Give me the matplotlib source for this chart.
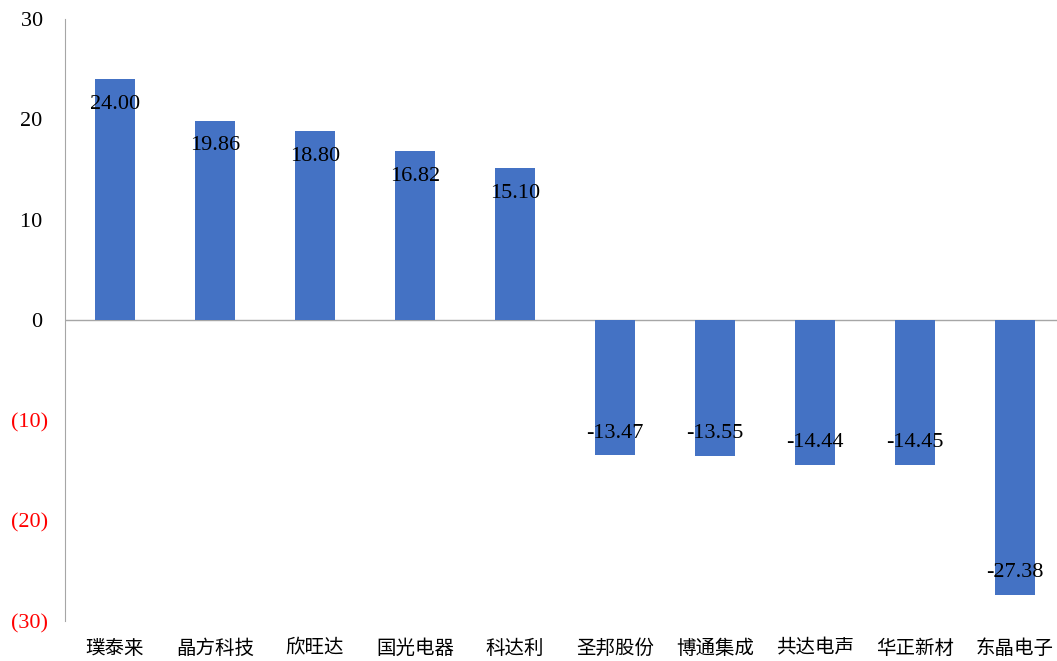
import numpy as np
import matplotlib.pyplot as plt

# 数据
names = ['璞泰来', '晶方科技', '欣旺达', '国光电器', '科达利',
         '圣邦股份', '博通集成', '共达电声', '华正新材', '东晶电子']
values = [24.00, 19.86, 18.80, 16.82, 15.10,
          -13.47, -13.55, -14.44, -14.45, -27.38]
yticks = [30, 20, 10, 0, -10, -20, -30]

fig = plt.figure(figsize=(10.57, 6.61), dpi=100)
ax = fig.add_axes([65 / 1057, 40 / 661, 992 / 1057, 602 / 661])

x = np.arange(len(names))
ax.bar(x, values, width=0.4, color='#4472C4', zorder=2)

for xi, v in zip(x, values):
    off = -2.5 if v > 0 else 2.2
    ax.text(xi, v + off, f'{v:.2f}', ha='center', va='center',
            fontsize=16, family='Liberation Serif', color='black', zorder=3)

ax.axhline(0, color='#A6A6A6', lw=1, zorder=1)
ax.set_xlim(-0.5, 9.42)
ax.set_ylim(-30, 30)

ax.set_xticks(x)
ax.set_xticklabels(names, family=['Noto Sans CJK SC', 'DejaVu Sans'], fontsize=14)
ax.set_yticks(yticks)
labs = [f'{t} ' if t >= 0 else f'({-t})' for t in yticks]
ax.set_yticklabels(labs, family='Liberation Serif', fontsize=16)
for t, lab in zip(yticks, ax.get_yticklabels()):
    if t < 0:
        lab.set_color('red')

ax.tick_params(axis='both', length=0)
ax.tick_params(axis='y', pad=12)
ax.tick_params(axis='x', pad=12)
for s in ['top', 'right', 'bottom']:
    ax.spines[s].set_visible(False)
ax.spines['left'].set_color('#A6A6A6')

fig.savefig('out.png', dpi=100)
